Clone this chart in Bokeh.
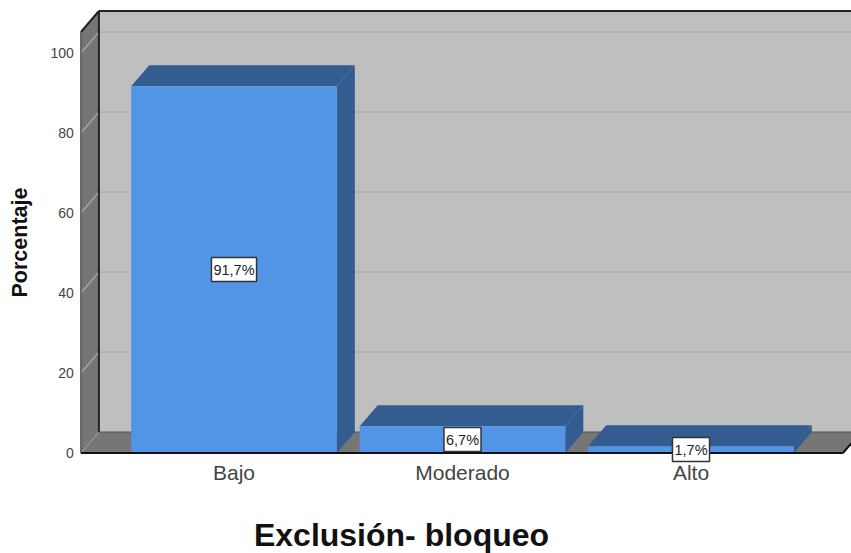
import math
from bokeh.plotting import figure
from bokeh.models import FixedTicker, Range1d, Label
from bokeh.embed import file_html
from bokeh.resources import INLINE

categories = ["Bajo", "Moderado", "Alto"]
values = [91.7, 6.7, 1.7]
labels = ["91,7%", "6,7%", "1,7%"]
y_ticks = [0, 20, 40, 60, 80, 100]
positions = [0, 1, 2]
x_title = "Exclusión- bloqueo"
y_title = "Porcentaje"

FONT = "Liberation Sans"
WALL = "#bfbfbf"
SIDE = "#767676"
FRONT = "#5294e6"
DARK = "#335c91"
EDGE = "#222222"

# pixel scale and depth offsets of the 3D box, axis extents
PXX = 228.5
PXY = 4.0
CX = 233.5
CY = 452.5
DX = 18 / PXX
DY = 21 / PXY
BW = 0.45
X0 = -0.67
X1 = 2.665
XEND = (851 - CX) / PXX
YTOP = 105.25

# The plotting frame fills the whole page, axes are pinned to the box's front edges.
p = figure(width=851, height=553, output_backend="svg", toolbar_location=None,
           x_range=Range1d(-CX / PXX, XEND), y_range=Range1d(-(553 - CY) / PXY, CY / PXY),
           min_border_left=0, min_border_right=0, min_border_top=0, min_border_bottom=0,
           background_fill_color="white", border_fill_color="white")
p.outline_line_color = None
p.grid.visible = False

# back wall, floor, left wall
p.quad(left=[X0 + DX], right=[X1 + DX], bottom=[DY], top=[YTOP + DY], fill_color=WALL, line_color=None)
p.patch([X0, X0 + DX, X1 + DX, X1], [0, DY, DY, 0], fill_color=SIDE, line_color=None)
p.patch([X0, X0 + DX, X0 + DX, X0], [0, DY, YTOP + DY, YTOP], fill_color=SIDE, line_color=None)

# grid lines on the back wall and the left wall
for t in y_ticks[1:]:
    p.line([X0 + DX, X1 + DX], [t + DY, t + DY], line_color="#aeaeae", line_width=1.5)
    p.line([X0, X0 + DX], [t, t + DY], line_color="#a8a8a8", line_width=1.2)
p.line([X0, X0 + DX], [0, DY], line_color="#a0a0a0", line_width=1)

# box edges
p.line([X0 + DX, X0 + DX], [DY, YTOP + DY], line_color=EDGE, line_width=2)
p.line([X0 + DX, X1 + DX], [YTOP + DY, YTOP + DY], line_color=EDGE, line_width=2)
p.line([X0, X0 + DX], [YTOP, YTOP + DY], line_color=EDGE, line_width=2)
p.line([X0, X0], [0, YTOP], line_color="#555555", line_width=1.5)
p.line([X0 + DX, X1 + DX], [DY, DY], line_color="#555555", line_width=1)

# bars
for x, v in zip(positions, values):
    p.patch([x - BW, x - BW + DX, x + BW + DX, x + BW], [v, v + DY, v + DY, v],
            fill_color=DARK, line_color=None)
    p.patch([x + BW, x + BW + DX, x + BW + DX, x + BW], [0, DY, v + DY, v],
            fill_color=DARK, line_color=None)
    p.quad(left=[x - BW], right=[x + BW], bottom=[0], top=[v], fill_color=FRONT, line_color=None)

p.line([X0, X1], [0, 0], line_color="#111111", line_width=2)
p.line([X1, XEND], [0, (XEND - X1) / DX * DY], line_color="#111111", line_width=2)

# value labels
for x, v, t in zip(positions, values, labels):
    p.add_layout(Label(x=x, y=v / 2, text=t, text_align="center", text_baseline="middle",
                       text_font=FONT, text_font_size="14.5px", text_color="#222222",
                       background_fill_color="white", border_line_color="#333333",
                       border_line_width=1.5, padding=(2, 4)))

# axis titles
p.add_layout(Label(x=(401 - CX) / PXX, y=(CY - 534) / PXY, text=x_title, text_align="center", text_baseline="middle",
                   text_font=FONT, text_font_style="bold", text_font_size="32px", text_color="#111111"))
p.add_layout(Label(x=(19 - CX) / PXX, y=(CY - 242) / PXY, text=y_title, angle=math.pi / 2,
                   text_align="center", text_baseline="middle",
                   text_font=FONT, text_font_style="bold", text_font_size="21.5px", text_color="#111111"))

xa = p.xaxis[0]
xa.fixed_location = 0
xa.ticker = FixedTicker(ticks=positions)
xa.major_label_overrides = dict(zip(positions, categories))
xa.axis_line_color = None
xa.major_tick_line_color = None
xa.minor_tick_line_color = None
xa.major_tick_in = 0
xa.major_tick_out = 0
xa.major_label_standoff = 8
xa.major_label_text_font = FONT
xa.major_label_text_font_size = "21px"
xa.major_label_text_color = "#444444"

ya = p.yaxis[0]
ya.fixed_location = X0
ya.ticker = FixedTicker(ticks=y_ticks)
ya.axis_line_color = None
ya.major_tick_line_color = None
ya.minor_tick_line_color = None
ya.major_tick_in = 0
ya.major_tick_out = 0
ya.major_label_standoff = 7
ya.major_label_text_font = FONT
ya.major_label_text_font_size = "14px"
ya.major_label_text_color = "#444444"

open("out.html", "w").write(file_html(p, INLINE))
